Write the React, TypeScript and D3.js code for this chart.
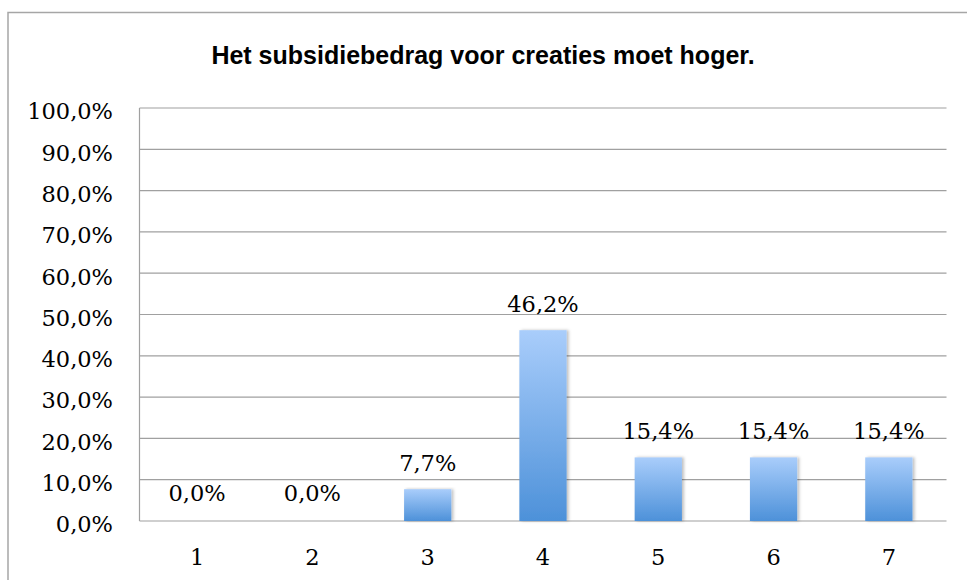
import React from "react";
import * as d3 from "d3";

const categories = ["1", "2", "3", "4", "5", "6", "7"];
const values = [0.0, 0.0, 7.7, 46.2, 15.4, 15.4, 15.4];
const yTicks = [0, 10, 20, 30, 40, 50, 60, 70, 80, 90, 100];
const title = "Het subsidiebedrag voor creaties moet hoger.";

const W = 967;
const H = 580;
const plot = { left: 139.5, right: 946.5, top: 108, bottom: 521 };

const fmt = (v: number) => v.toFixed(1).replace(".", ",") + "%";

export default function App() {
  const x = d3
    .scaleBand<string>()
    .domain(categories)
    .range([plot.left, plot.right])
    .paddingInner(0.59)
    .paddingOuter(0.295);
  const y = d3.scaleLinear().domain([0, 100]).range([plot.bottom, plot.top]);
  const serif = "'DejaVu Serif', serif";
  const fs = 22.5;

  return (
    <svg
      width={W}
      height={H}
      style={{ position: "absolute", left: 0, top: 0, background: "#fff" }}
    >
      <defs>
        <linearGradient id="barGrad" x1="0" y1="0" x2="0" y2="1">
          <stop offset="0%" stopColor="#a9cdfb" />
          <stop offset="100%" stopColor="#4d91d9" />
        </linearGradient>
        <filter id="shadow" x="-20%" y="-5%" width="150%" height="110%">
          <feDropShadow dx="2" dy="0" stdDeviation="1.5" floodColor="#000" floodOpacity="0.25" />
        </filter>
      </defs>
      <rect x={8} y={12.5} width={980} height={600} fill="#fff" stroke="#a6a6a6" strokeWidth={1.5} />
      <text
        x={483}
        y={64}
        textAnchor="middle"
        fontFamily="'Liberation Sans', Arial, sans-serif"
        fontWeight="bold"
        fontSize={25}
        fill="#000"
      >
        {title}
      </text>
      {yTicks.map((t) => (
        <g key={t}>
          <line
            x1={plot.left}
            x2={plot.right}
            y1={y(t)}
            y2={y(t)}
            stroke="#a0a0a0"
            strokeWidth={1.2}
          />
          <text
            x={113}
            y={y(t) + 11.3}
            textAnchor="end"
            fontFamily={serif}
            fontSize={fs}
            fill="#000"
          >
            {fmt(t)}
          </text>
        </g>
      ))}
      <line x1={plot.left} x2={plot.left} y1={plot.top} y2={plot.bottom} stroke="#a0a0a0" strokeWidth={1.2} />
      {categories.map((c, i) => {
        const v = values[i];
        const bx = x(c)!;
        const bw = x.bandwidth();
        const cx = bx + bw / 2;
        return (
          <g key={c}>
            {v > 0 && (
              <rect
                x={bx}
                y={y(v)}
                width={bw}
                height={y(0) - y(v)}
                fill="url(#barGrad)"
                filter="url(#shadow)"
              />
            )}
            <text
              x={cx}
              y={y(v) - (v > 0 ? 18 : 20)}
              textAnchor="middle"
              fontFamily={serif}
              fontSize={fs}
              fill="#000"
            >
              {fmt(v)}
            </text>
            <text
              x={cx}
              y={565}
              textAnchor="middle"
              fontFamily={serif}
              fontSize={fs}
              fill="#000"
            >
              {c}
            </text>
          </g>
        );
      })}
    </svg>
  );
}
